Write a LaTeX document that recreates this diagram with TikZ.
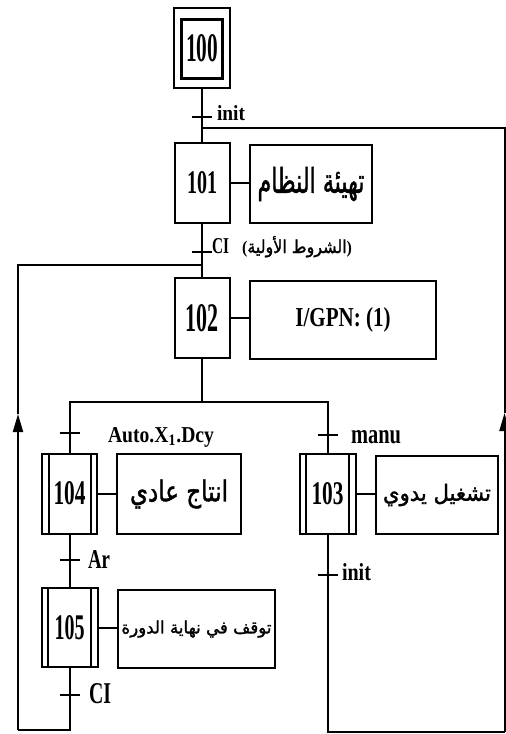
\documentclass[tikz,border=0pt]{standalone}
\usepackage{fontspec}
\usepackage{graphicx}
\setmainfont{Liberation Serif}
\newfontfamily\arabicfont[Script=Arabic,FakeBold=1.5]{DejaVu Sans}
\TeXXeTstate=1
\usetikzlibrary{arrows.meta,calc}
\newcommand\numtxt[3]{\resizebox{#1pt}{#2pt}{\bfseries #3}}
\newcommand\artxt[3]{\resizebox{#1pt}{#2pt}{\arabicfont #3}}
\newcommand\lattxt[3]{\resizebox{#1pt}{#2pt}{\bfseries #3}}
\begin{document}
\begin{tikzpicture}[x=1pt,y=-1pt,line width=2pt,
  stepbox/.style={draw,line width=2pt,inner sep=0pt,minimum width=55pt,minimum height=80pt},
  actbox/.style={draw,line width=2pt,inner sep=0pt},
  lbl/.style={inner sep=0pt,anchor=base west},
  tickmark/.style={line width=2.5pt},
  arr/.style={-{Triangle[width=10pt,length=18pt]}}]
\useasboundingbox (0,0) rectangle (506,734);
% steps
\node[stepbox,minimum width=56pt,minimum height=80pt] (s100) at (202,48) {};
\node[draw,line width=3pt,inner sep=0pt,minimum width=41pt,minimum height=59pt] (s100i) at (202,48.5) {\numtxt{32}{27}{100}};
\node[stepbox] (s101) at (202,183) {\numtxt{30}{22}{101}};
\node[actbox,minimum width=122pt,minimum height=78pt] (a101) at (311,184) {\artxt{107}{26}{\beginR تهيئة النظام\endR}};
\node[stepbox] (s102) at (202,318) {\numtxt{33}{27}{102}};
\node[actbox,minimum width=186pt,minimum height=78pt] (a102) at (343,320) {\lattxt{95}{19}{I/GPN: (1)}};
\node[stepbox] (s104) at (69.5,493.5) {\numtxt{32}{23}{104}};
\node[actbox,minimum width=124pt,minimum height=80pt] (a104) at (179,494) {\artxt{98}{22}{\beginR انتاج عادي\endR}};
\node[stepbox,minimum width=56pt] (s103) at (327.5,494) {\numtxt{32}{22}{103}};
\node[actbox,minimum width=122pt,minimum height=78pt] (a103) at (437,495) {\artxt{108}{17}{\beginR تشغيل يدوي\endR}};
\node[stepbox,minimum width=56pt,minimum height=79pt] (s105) at (69.5,627.5) {\numtxt{30}{24}{105}};
\node[actbox,minimum width=157pt,minimum height=78pt] (a105) at (196.5,629) {\artxt{150}{13}{\beginR توقف في نهاية الدورة\endR}};
% inner side lines of steps 103, 104, 105
\foreach \s in {s103,s104,s105}{
  \draw ([xshift=7.5pt]\s.north west) -- ([xshift=7.5pt]\s.south west);
  \draw ([xshift=-7.5pt]\s.north east) -- ([xshift=-7.5pt]\s.south east);
}
% links step -> action
\foreach \s/\a in {s101/a101,s102/a102,s104/a104,s103/a103,s105/a105}{
  \draw (\s.east) -- (\s.east -| \a.west);
}
% transitions
\coordinate (t1) at (202,117);
\coordinate (t2) at (202,252);
\coordinate (t3) at (69.5,433);
\coordinate (t4) at (327.5,435);
\coordinate (t5) at (69.5,560);
\coordinate (t6) at (69.5,695);
\coordinate (t7) at (327.5,575);
\foreach \t in {t1,t2,t3,t4,t5,t6,t7}{
  \draw[tickmark] ([xshift=-10pt]\t) -- ([xshift=10pt]\t);
}
\node[lbl] (l1) at (216,120) {\lattxt{28}{15}{init}};
\node[lbl] (l2) at (211,253) {\lattxt{17}{15}{CI}};
\node[lbl] (l2a) at (241,253) {\resizebox{110pt}{17pt}{{\bfseries(}{\arabicfont\beginR الشروط الأولية\endR}{\bfseries)}}};
\node[lbl] (l3) at (107,442) {\lattxt{106}{15}{Auto.X\textsubscript{1}.Dcy}};
\node[lbl] (l4) at (350,443) {\lattxt{50}{13}{manu}};
\node[lbl] (l5) at (87,568) {\lattxt{22}{18}{Ar}};
\node[lbl] (l6) at (88,703) {\lattxt{22}{20}{CI}};
\node[lbl] (l7) at (341,580) {\lattxt{29}{17}{init}};
% main vertical links
\draw (s100.south) -- (s101.north);
\draw (s101.south) -- (s102.north);
\draw (s104.south) -- (s105.north);
% divergence
\coordinate (d) at (202,402);
\draw (s102.south) -- (d);
\draw (d) -| (s104.north);
\draw (d) -| (s103.north);
% right loop 103 -> 101
\coordinate (rb) at (504.5,732);
\coordinate (ra) at (504.5,413);
\coordinate (rt) at (504.5,128);
\coordinate (j1) at (202,128);
\draw (s103.south) |- (rb);
\draw[arr] (rb) -- (ra);
\draw (ra) -- (rt) -- (j1);
% left loop 105 -> 102
\coordinate (lb) at (18,730);
\coordinate (la) at (18,414);
\coordinate (lt) at (18,265);
\coordinate (j2) at (202,265);
\draw (s105.south) |- (lb);
\draw[arr] (lb) -- (la);
\draw (la) -- (lt) -- (j2);
\end{tikzpicture}
\end{document}
